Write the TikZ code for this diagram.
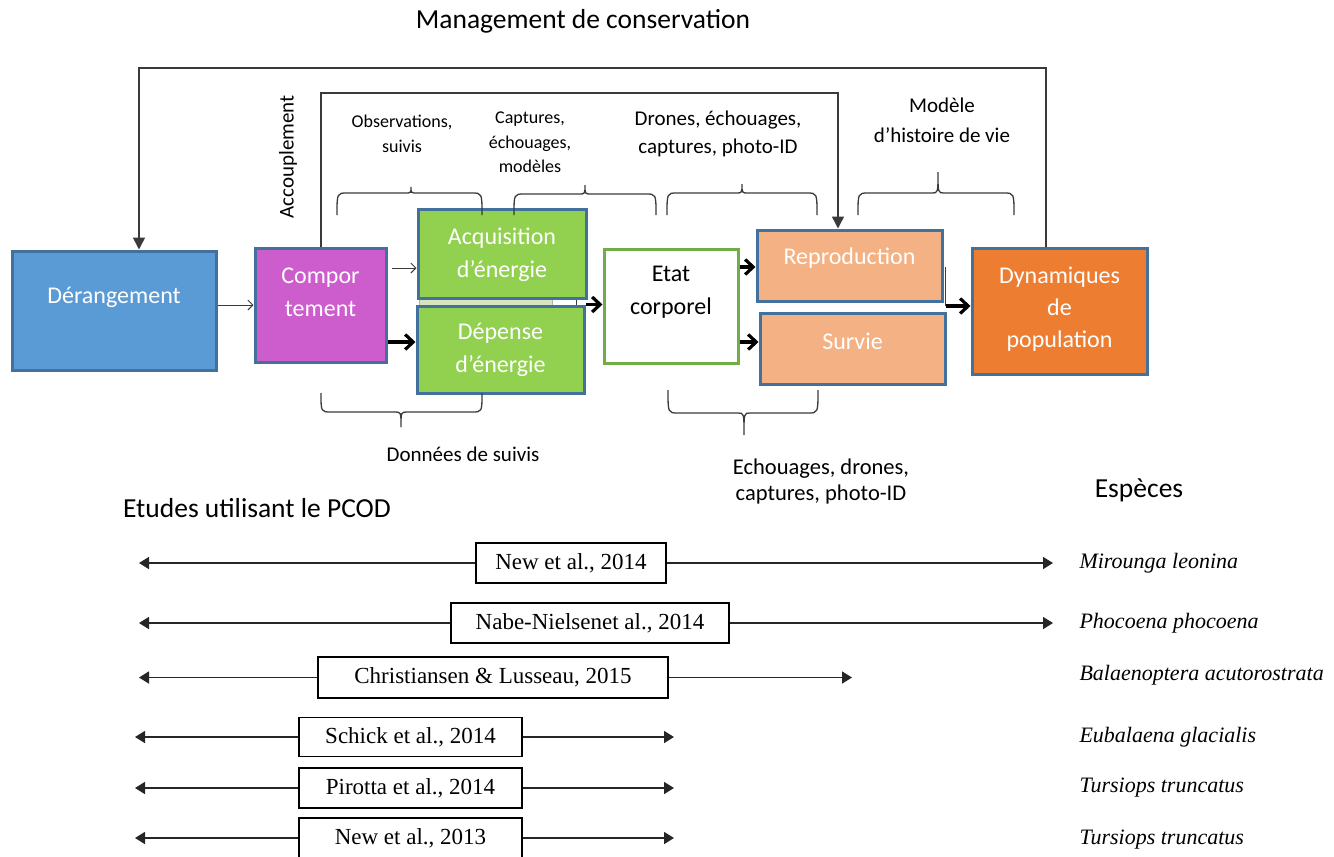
\documentclass[tikz,border=0pt]{standalone}
\usepackage{fontspec}
\setmainfont{Carlito}
\newfontfamily\refserif{Liberation Serif}
\usetikzlibrary{arrows.meta,calc}

\definecolor{derblue}{HTML}{5B9BD5}
\definecolor{boxedge}{HTML}{41719C}
\definecolor{behav}{HTML}{CD5CCD}
\definecolor{energy}{HTML}{92D050}
\definecolor{paleband}{HTML}{D7E4BD}
\definecolor{bodyedge}{HTML}{70AD47}
\definecolor{vital}{HTML}{F4B183}
\definecolor{popul}{HTML}{ED7D31}
\definecolor{inkgrey}{HTML}{3A3A3A}

\newcommand\fsz[2]{\fontsize{#1}{#2}\selectfont}

% curly brace opening downwards (legs at the bottom, tip on top)
\newcommand\BraceUp[6]{% xl, xr, xm, y legs, y bar, y tip
  \draw[bracepen] (#1,#4) .. controls (#1,#5) .. (#1+10,#5) -- (#3-6,#5)
    .. controls (#3,#5) .. (#3,#6) .. controls (#3,#5) .. (#3+6,#5)
    -- (#2-10,#5) .. controls (#2,#5) .. (#2,#4);}
% curly brace opening upwards (legs on top, tip below)
\newcommand\BraceDown[6]{%
  \draw[bracepen] (#1,#4) .. controls (#1,#5) .. (#1+10,#5) -- (#3-6,#5)
    .. controls (#3,#5) .. (#3,#6) .. controls (#3,#5) .. (#3+6,#5)
    -- (#2-10,#5) .. controls (#2,#5) .. (#2,#4);}

\tikzset{
  stagebox/.style={draw=boxedge, line width=3pt, inner sep=0pt},
  boxtext/.style={text=white, align=center, font=\fsz{24}{33}},
  thinarr/.style={draw=inkgrey, line width=0.9pt, -{Straight Barb[length=5pt,width=10pt]}},
  thickarr/.style={draw=black, line width=3.2pt, -{Straight Barb[length=8pt,width=15pt]}},
  fbline/.style={draw=inkgrey, line width=1.5pt, -{Triangle[length=12pt,width=12pt]}},
  bracepen/.style={draw=inkgrey, line width=1.3pt},
  smalllab/.style={align=center, text=black, font=\fsz{18}{25}},
  midlab/.style={align=center, text=black, font=\fsz{21}{29}},
  headlab/.style={text=black, font=\fsz{27.5}{32}},
  refbox/.style={draw=black, line width=1.2pt, fill=white, inner sep=0pt,
    font=\refserif\fsz{23}{26}},
  refarrow/.style={draw=black!85, line width=1.6pt, -{Triangle[length=10pt,width=12pt]}},
  species/.style={anchor=west, font=\refserif\itshape\fsz{22}{26}}
}

\begin{document}
\begin{tikzpicture}[x=1pt,y=-1pt]
\useasboundingbox (0,0) rectangle (1334,857);

% headings
\node[headlab] (title) at (583,21) {Management de conservation};
\node[headlab] (etudes) at (257,508) {Etudes utilisant le PCOD};
\node[headlab] (especes) at (1139,490) {Espèces};

% thin band left between the two energy boxes
\fill[paleband, draw=gray!60, line width=0.6pt] (419,298) rectangle (552,306);

% main stages of the PCOD chain
\node[stagebox, fill=derblue, minimum width=204pt, minimum height=119pt] (der) at (114,310.5) {};
\node[boxtext] (derT) at (114,297) {Dérangement};

\node[stagebox, fill=behav, minimum width=131pt, minimum height=114pt] (comp) at (320.5,305) {};
\node[boxtext] (compT) at (320.5,292.5) {Compor\\tement};

\node[stagebox, fill=energy, minimum width=168pt, minimum height=89pt] (acq) at (502,253.5) {};
\node[boxtext] (acqT) at (502,254.5) {Acquisition\\d’énergie};

\node[stagebox, fill=energy, minimum width=167pt, minimum height=87pt] (dep) at (500.5,349.5) {};
\node[boxtext] (depT) at (500.5,349.5) {Dépense\\d’énergie};

\node[draw=bodyedge, line width=3pt, fill=white, inner sep=0pt,
      minimum width=134pt, minimum height=114pt] (etat) at (671,306) {};
\node[boxtext, text=black] (etatT) at (671,292) {Etat\\corporel};

\node[stagebox, fill=vital, minimum width=185pt, minimum height=71pt] (repro) at (849.5,265.5) {};
\node[boxtext] (reproT) at (849.5,258) {Reproduction};

\node[stagebox, fill=vital, minimum width=185pt, minimum height=71pt] (surv) at (852.5,348.5) {};
\node[boxtext] (survT) at (852.5,341) {Survie};

\node[stagebox, fill=popul, minimum width=175pt, minimum height=126pt] (dyn) at (1059.5,311) {};
\node[boxtext, font=\fsz{24}{32}] (dynT) at (1059.5,309) {Dynamiques\\de\\population};

% flows between stages
\draw[thinarr] (der.east |- comp.west) -- (comp.west);
\draw[thinarr] ([xshift=4pt]comp.east |- 0,268) -- (acq.west |- 0,268);
\draw[thickarr] (comp.east |- 0,342) -- (dep.west |- 0,342);
\draw[draw=inkgrey, line width=1pt] ([xshift=-11pt]acq.south east) -- ([xshift=-9pt]dep.north east);
\draw[thickarr] (dep.north east) -- (etat.west |- dep.north east);
\draw[thickarr] (etat.east |- 0,267) -- (repro.west |- 0,267);
\draw[thickarr] (etat.east |- 0,342) -- (surv.west |- 0,342);
\draw[draw=inkgrey, line width=1pt] ([xshift=2pt]repro.east |- 0,267) -- ([xshift=2pt]repro.east |- 0,306);
\draw[thickarr] ([xshift=2pt]repro.east |- 0,306) -- (dyn.west |- 0,306);

% feedback loops
\coordinate (loopOut) at (139,68);
\coordinate (loopIn) at (321,93);
\coordinate (loopInR) at (838,93);
\draw[fbline] ([xshift=-13.5pt]dyn.north) |- (loopOut) -- (der.north -| loopOut);
\draw[fbline] (comp.north -| loopIn) -- (loopIn) -- (loopInR) -- (repro.north -| loopInR);
\node[midlab, rotate=90] (accoup) at (288,157) {Accouplement};

% data sources above the chain
\BraceUp{337}{482}{411}{215}{193}{187}
\BraceUp{514}{656}{585}{215}{194}{185}
\BraceUp{667}{817}{742}{215}{193}{184}
\BraceUp{858}{1014}{938}{215}{193}{172}
\node[smalllab] (src1) at (402,134) {Observations,\\suivis};
\node[smalllab, font=\fsz{18}{24.5}] (src2) at (530,142.5) {Captures,\\échouages,\\modèles};
\node[midlab, font=\fsz{21}{28}] (src3) at (718,134) {Drones, échouages,\\captures, photo-ID};
\node[midlab, font=\fsz{21}{30}] (src4) at (942,120) {Modèle\\d’histoire de vie};

% data sources below the chain
\BraceDown{321}{482}{401}{393}{412}{427}
\BraceDown{668}{818}{744}{390}{413}{435}
\node[midlab] (src5) at (463,454) {Données de suivis};
\node[midlab, font=\fsz{22.5}{26}] (src6) at (821,481) {Echouages, drones,\\captures, photo-ID};

% studies using the PCOD and the stages they cover
\node[refbox, minimum width=190pt, minimum height=40pt] (r1) at (571,563) {New et al., 2014};
\node[refbox, minimum width=278pt, minimum height=40pt] (r2) at (590,623) {Nabe-Nielsenet al., 2014};
\node[refbox, minimum width=350pt, minimum height=41pt] (r3) at (493,677.5) {Christiansen \& Lusseau, 2015};
\node[refbox, minimum width=223pt, minimum height=39pt] (r4) at (410.5,737) {Schick et al., 2014};
\node[refbox, minimum width=223pt, minimum height=40pt] (r5) at (410.5,788) {Pirotta et al., 2014};
\node[refbox, minimum width=223pt, minimum height=40pt] (r6) at (410.5,838) {New et al., 2013};

\coordinate (a1) at (139,563);  \coordinate (b1) at (1053,563);
\coordinate (a2) at (139,623);  \coordinate (b2) at (1053,623);
\coordinate (a3) at (139,677.5);\coordinate (b3) at (852,677.5);
\coordinate (a4) at (135,737);  \coordinate (b4) at (674,737);
\coordinate (a5) at (135,788);  \coordinate (b5) at (674,788);
\coordinate (a6) at (135,838);  \coordinate (b6) at (674,838);
\foreach \i in {1,...,6}{
  \draw[refarrow] (r\i.west) -- (a\i);
  \draw[refarrow] (r\i.east) -- (b\i);
}

\node[species] (s1) at (1076,563) {Mirounga leonina};
\node[species] (s2) at (1076,623) {Phocoena phocoena};
\node[species] (s3) at (1076,675) {Balaenoptera acutorostrata};
\node[species] (s4) at (1076,737) {Eubalaena glacialis};
\node[species] (s5) at (1076,788) {Tursiops truncatus};
\node[species] (s6) at (1076,840) {Tursiops truncatus};
\end{tikzpicture}
\end{document}
